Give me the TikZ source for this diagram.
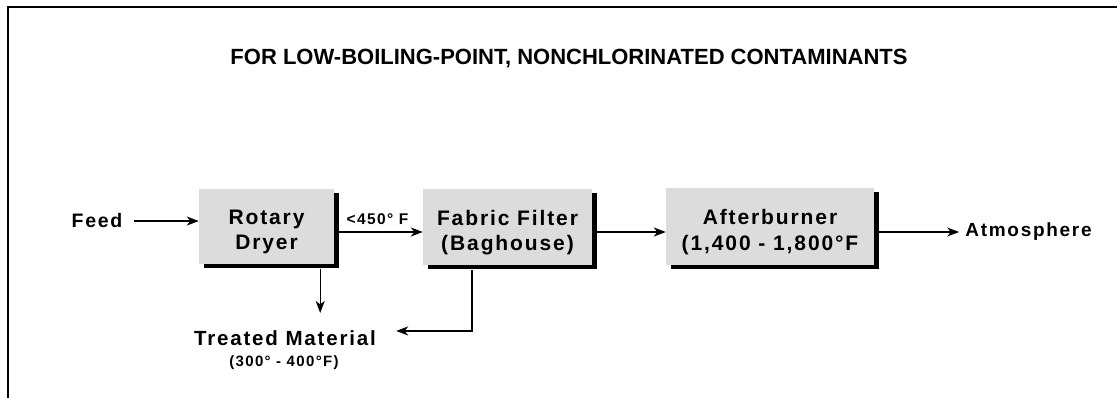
\documentclass[tikz,border=0pt]{standalone}
\usepackage{fontspec}
\setmainfont{Liberation Sans}
\newfontfamily\spaced{Liberation Sans}[LetterSpace=9]
\usetikzlibrary{arrows.meta,shadows,calc}
\definecolor{boxgray}{RGB}{220,220,220}
\begin{document}
\begin{tikzpicture}[x=1pt,y=1pt,
  box/.style={fill=boxgray, inner sep=0pt,
    general shadow={fill=black, shadow xshift=4.5pt, shadow yshift=-4.5pt}},
  boxtext/.style={font=\spaced\bfseries\fontsize{21}{25.5}\selectfont, align=center, yshift=-5.5pt, inner sep=0pt},
  lab/.style={font=\spaced\bfseries\fontsize{19.5}{23}\selectfont, inner sep=0pt, anchor=base},
  small/.style={font=\spaced\bfseries\fontsize{15}{18}\selectfont, inner sep=0pt, anchor=base},
  arr/.style={line width=1.4pt, -{Stealth[length=12pt,width=9pt,inset=3.5pt]}},
  frame/.style={line width=2pt}
]
\useasboundingbox (0,0) rectangle (1117,-398);
\draw[frame] (7.5,-398) -- (7.5,-7.5) -- (1117,-7.5);

\node[font=\bfseries\fontsize{22}{26}\selectfont, inner sep=0pt, anchor=base] (title) at (569,-65)
  {FOR LOW-BOILING-POINT, NONCHLORINATED CONTAMINANTS};

\node[box, minimum width=135pt, minimum height=75pt,
  label={[boxtext]center:{Rotary\\Dryer}}] (rd) at (266.5,-226.5) {};
\node[box, minimum width=169pt, minimum height=76pt,
  label={[boxtext]center:{Fabric Filter\\(Baghouse)}}] (ff) at (507.5,-227) {};
\node[box, minimum width=208pt, minimum height=77pt,
  label={[boxtext]center:{Afterburner\\(1,400 - 1,800°F}}] (ab) at (770,-226.5) {};

\node[lab] (feed) at (97,-228) {Feed};
\node[lab, font=\spaced\bfseries\fontsize{19}{22}\selectfont] (atm) at (1028.5,-237) {Atmosphere};
\node[small, font=\spaced\bfseries\fontsize{15.5}{18}\selectfont] (t450) at (377.5,-225) {<450° F};
\node[lab, font=\spaced\bfseries\fontsize{20.5}{24}\selectfont] (tm1) at (285,-345) {Treated Material};
\node[small] (tm2) at (284,-366) {(300° - 400°F)};

\draw[arr] ($(feed.east)+(11,0)$) -- (feed.east -| rd.west);
\draw[arr] ($(rd.east)+(4.5,-5.5)$) -- ($(ff.west)+(0,-5)$);
\draw[arr] ($(ff.east)+(4.5,-5)$) -- ($(ab.west)+(0,-5.5)$);
\draw[arr] ($(ab.east)+(4.5,-5.5)$) -- ($(ab.east -| atm.west)+(-6,-5.5)$);
\draw[arr] ($(rd.south east)+(-14,-4.5)$) -- ($(tm1.north -| rd.south east)+(-14,17)$);
\draw[arr] ($(ff.south)+(-35.5,-5)$) |- ($(tm1.east)+(20,6.7)$);
\end{tikzpicture}
\end{document}
